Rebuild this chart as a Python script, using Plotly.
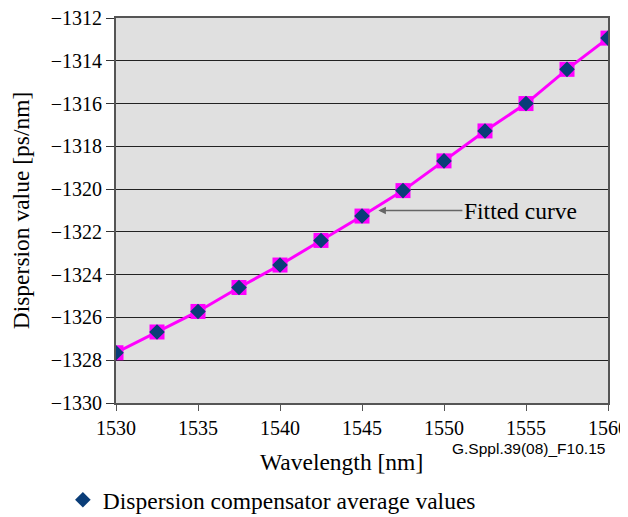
import plotly.graph_objects as go

WAVELENGTH = [1530, 1532.5, 1535, 1537.5, 1540, 1542.5, 1545, 1547.5, 1550, 1552.5, 1555, 1557.5, 1560]
DISPERSION = [-1327.65, -1326.68, -1325.72, -1324.6, -1323.55, -1322.4, -1321.26, -1320.07,
              -1318.68, -1317.28, -1316.0, -1314.4, -1312.94]

SERIF = "Liberation Serif"
SANS = "Liberation Sans"

fig = go.Figure()

# fitted curve: magenta line with square markers
fig.add_trace(go.Scatter(
    x=WAVELENGTH, y=DISPERSION,
    mode="lines+markers",
    line=dict(color="#ff00ff", width=3),
    marker=dict(symbol="square", size=15, color="#ff00ff"),
    showlegend=False,
    hoverinfo="skip",
))

# measured averages on top
fig.add_trace(go.Scatter(
    x=WAVELENGTH, y=DISPERSION,
    mode="markers",
    marker=dict(symbol="diamond", size=12, color="#0a3d78"),
    name="Dispersion compensator average values",
))

# page body has an 8px margin, so the figure is 8px smaller and shifted
fig.update_layout(
    width=620, height=509,
    margin=dict(l=108, r=20, t=10, b=114, autoexpand=False),
    paper_bgcolor="white",
    plot_bgcolor="#e0e0e0",
    font=dict(family=SERIF, size=20, color="black"),
    legend=dict(
        orientation="h",
        x=-0.108, xanchor="left",
        y=-0.252, yanchor="middle",
        font=dict(family=SERIF, size=23.5),
        bgcolor="rgba(0,0,0,0)",
        itemwidth=30,
    ),
    annotations=[
        dict(
            x=1546.0, y=-1321.0, xref="x", yref="y",
            ax=84, ay=0,
            text="Fitted curve",
            showarrow=True, arrowhead=2, arrowsize=1, arrowwidth=1.5,
            arrowcolor="#666",
            xanchor="left", standoff=0,
            font=dict(family=SERIF, size=23.5),
        ),
        dict(
            x=0.5 - 21 / 492, y=-0.153, xref="paper", yref="paper",
            text="Wavelength [nm]", showarrow=False,
            xanchor="center", yanchor="middle",
            font=dict(family=SERIF, size=23.5),
        ),
        dict(
            x=0.997, y=-0.117, xref="paper", yref="paper",
            text="G.Sppl.39(08)_F10.15", showarrow=False,
            xanchor="right", yanchor="middle",
            font=dict(family=SANS, size=15.5),
        ),
    ],
)

fig.update_xaxes(
    range=[1530, 1560],
    tick0=1530, dtick=5,
    ticks="outside", ticklen=6, tickcolor="#555", tickwidth=1,
    showline=True, linecolor="#555", linewidth=2, mirror=True,
    showgrid=False, zeroline=False,
    ticklabeloverflow="allow",
    tickfont=dict(family=SERIF, size=20),
)

fig.update_yaxes(
    range=[-1330, -1312],
    tick0=-1330, dtick=2,
    ticks="outside", ticklen=8, tickcolor="#333", tickwidth=1,
    showline=True, linecolor="#555", linewidth=2, mirror=True,
    showgrid=True, gridcolor="#222", gridwidth=1,
    zeroline=False,
    ticklabeloverflow="allow",
    tickfont=dict(family=SERIF, size=20),
    title=dict(text="Dispersion value [ps/nm]", font=dict(family=SERIF, size=23.5), standoff=14),
)

fig.write_html("out.html")
